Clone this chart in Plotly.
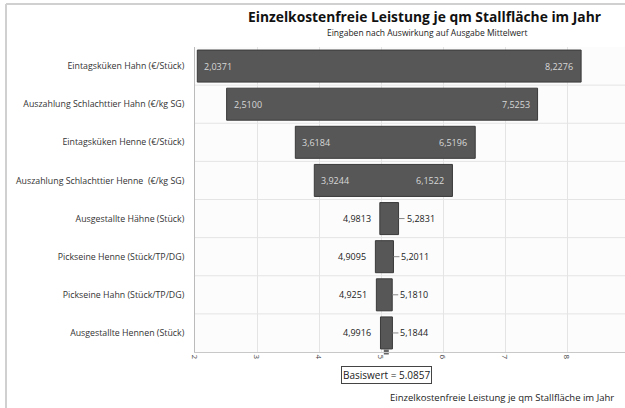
import plotly.graph_objects as go

categories = [
    "Eintagsküken Hahn (€/Stück)",
    "Auszahlung Schlachttier Hahn (€/kg SG)",
    "Eintagsküken Henne (€/Stück)",
    "Auszahlung Schlachttier Henne  (€/kg SG)",
    "Ausgestallte Hähne (Stück)",
    "Pickseine Henne (Stück/TP/DG)",
    "Pickseine Hahn (Stück/TP/DG)",
    "Ausgestallte Hennen (Stück)",
]
low_values = [2.0371, 2.5100, 3.6184, 3.9244, 4.9813, 4.9095, 4.9251, 4.9916]
high_values = [8.2276, 7.5253, 6.5196, 6.1522, 5.2831, 5.2011, 5.1810, 5.1844]
base_value = 5.0857
inside_label = [True, True, True, True, False, False, False, False]

W, H = 625, 408
ML, MR, MT, MB = 195, 0, 47, 56
px_per_unit = 62.0
x_min = 2
x_max = x_min + (W - ML - MR) / px_per_unit

def fmt(v):
    return f"{v:.4f}".replace(".", ",")

ypos = list(range(len(categories)))

fig = go.Figure()
fig.add_trace(go.Bar(
    y=ypos,
    x=[h - l for l, h in zip(low_values, high_values)],
    base=low_values,
    orientation="h",
    width=0.84,
    marker=dict(color="#575757", line=dict(color="#3a3a3a", width=1)),
    hoverinfo="skip",
    showlegend=False,
))
fig.add_trace(go.Scatter(
    x=[base_value], y=[len(categories) - 0.5],
    mode="markers",
    marker=dict(symbol="square", size=5, color="#666666"),
    cliponaxis=False, showlegend=False, hoverinfo="skip",
))

annotations = []
shapes = []
for i, (l, h, ins) in enumerate(zip(low_values, high_values, inside_label)):
    if ins:
        annotations.append(dict(x=l, y=i, xref="x", yref="y", text=fmt(l), showarrow=False,
                                xanchor="left", xshift=5, font=dict(size=9, color="#d8d8d8")))
        annotations.append(dict(x=h, y=i, xref="x", yref="y", text=fmt(h), showarrow=False,
                                xanchor="right", xshift=-6, font=dict(size=9, color="#d8d8d8")))
    else:
        annotations.append(dict(x=l, y=i, xref="x", yref="y", text=fmt(l), showarrow=False,
                                xanchor="right", xshift=-7, font=dict(size=9, color="#222222")))
        annotations.append(dict(x=h, y=i, xref="x", yref="y", text=fmt(h), showarrow=False,
                                xanchor="left", xshift=6, font=dict(size=9, color="#222222")))
        shapes.append(dict(type="line", xref="x", yref="y", x0=h, x1=h + 6 / px_per_unit,
                           y0=i, y1=i, line=dict(color="#888888", width=1)))

# row separators
for i in range(len(categories) - 1):
    shapes.append(dict(type="line", xref="paper", yref="y", x0=0, x1=1, y0=i + 0.5, y1=i + 0.5,
                       line=dict(color="#e4e4e4", width=1), layer="below"))

# outer frame lines (left and top)
pw = W - ML - MR
ph = H - MT - MB
shapes.append(dict(type="line", xref="paper", yref="paper",
                   x0=(6 - ML) / pw, x1=(6 - ML) / pw, y0=1 + (MT - 4) / ph, y1=(MT - H) / ph,
                   line=dict(color="#d0d0d0", width=2)))
shapes.append(dict(type="line", xref="paper", yref="paper",
                   x0=(6 - ML) / pw, x1=(W - ML) / pw, y0=1 + (MT - 4) / ph, y1=1 + (MT - 4) / ph,
                   line=dict(color="#d0d0d0", width=2)))

annotations.append(dict(x=base_value, y=-(375 - (H - MB)) / ph, xref="x", yref="paper",
                        text="Basiswert = 5.0857", showarrow=False, yanchor="middle",
                        font=dict(size=10, color="#222222"),
                        bordercolor="#444444", borderwidth=1, borderpad=1, bgcolor="white"))

annotations.append(dict(x=(388 - ML) / pw, y=-(397 - (H - MB)) / ph, xref="paper", yref="paper",
                        text="Einzelkostenfreie Leistung je qm Stallfläche im Jahr", showarrow=False,
                        xanchor="left", yanchor="middle", font=dict(size=9.5, color="#222222")))
annotations.append(dict(x=(424 - ML) / pw, y=1 + (MT - 17) / ph, xref="paper", yref="paper",
                        text="<b>Einzelkostenfreie Leistung je qm Stallfläche im Jahr</b>", showarrow=False,
                        xanchor="center", yanchor="middle", font=dict(size=13.8, color="#111111")))
annotations.append(dict(x=(427 - ML) / pw, y=1 + (MT - 33) / ph, xref="paper", yref="paper",
                        text="Eingaben nach Auswirkung auf Ausgabe Mittelwert", showarrow=False,
                        xanchor="center", yanchor="middle", font=dict(size=8.5, color="#222222")))

fig.update_layout(
    width=W, height=H,
    margin=dict(l=ML, r=MR, t=MT, b=MB, autoexpand=False),
    paper_bgcolor="white", plot_bgcolor="#fcfcfc",
    font=dict(family="Open Sans, Liberation Sans, sans-serif", color="#222222"),
    annotations=annotations, shapes=shapes,
    bargap=0.16,
    xaxis=dict(range=[x_min, x_max], dtick=1, tick0=2, tickangle=90,
               tickfont=dict(size=8, color="#444444"), automargin=False,
               showgrid=True, gridcolor="#e4e4e4", zeroline=False,
               showline=True, linecolor="#c8c8c8", linewidth=1, ticks="", fixedrange=True),
    yaxis=dict(range=[len(categories) - 0.5, -0.5], tickvals=ypos, ticktext=categories,
               tickfont=dict(size=8.8, color="#333333"), showgrid=False, zeroline=False,
               automargin=False,
               showline=True, linecolor="#bbbbbb", linewidth=1, ticks="", ticklabelstandoff=8),
)

fig.write_html("out.html", config={"displayModeBar": False},
               post_script="document.body.style.margin='0';document.body.style.overflow='hidden';")
